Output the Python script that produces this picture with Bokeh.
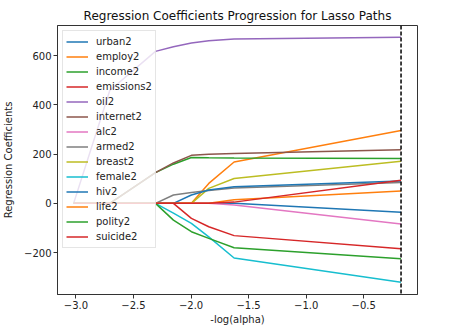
from bokeh.plotting import figure
from bokeh.models import Range1d, FixedTicker, CustomJSTickFormatter, Span, Legend, LegendItem
from bokeh.embed import file_html
from bokeh.resources import INLINE

# -log(alpha) at each step of the path
neg_log_alpha = [-3.02, -2.706, -2.309, -2.153, -1.997, -1.846, -1.626, -0.176]
best_neg_log_alpha = -0.176

names = ["urban2", "employ2", "income2", "emissions2", "oil2", "internet2", "alc2",
         "armed2", "breast2", "female2", "hiv2", "life2", "polity2", "suicide2"]

urban2 = [0, 0, 0, 0, 0, 0, 0, -36]
employ2 = [0, 0, 0, 0, 0, 81, 168, 296]
income2 = [0, 0, 125, 159, 186, 185, 184, 182]
emissions2 = [0, 0, 0, 0, -61, -95, -131, -184]
oil2 = [0, 458, 617, 636, 651, 660, 667, 674]
internet2 = [0, 0, 125, 164, 195, 199, 202, 218]
alc2 = [0, 0, 0, 0, 0, 0, -7, -84]
armed2 = [0, 0, 0, 34, 44, 52, 62, 85]
breast2 = [0, 0, 0, 0, 0, 61, 101, 171]
female2 = [0, 0, 0, -40, -81, -136, -222, -320]
hiv2 = [0, 0, 0, 0, 34, 54, 67, 91]
life2 = [0, 0, 0, 0, 0, 0, 15, 50]
polity2 = [0, 0, 0, -68, -115, -142, -180, -225]
suicide2 = [0, 0, 0, 0, 0, 0, 5, 94]

series = [urban2, employ2, income2, emissions2, oil2, internet2, alc2,
          armed2, breast2, female2, hiv2, life2, polity2, suicide2]

x_ticks = [-3.0, -2.5, -2.0, -1.5, -1.0, -0.5]
y_ticks = [-200, 0, 200, 400, 600]

tab10 = ["#1f77b4", "#ff7f0e", "#2ca02c", "#d62728", "#9467bd",
         "#8c564b", "#e377c2", "#7f7f7f", "#bcbd22", "#17becf"]

FONT = "DejaVu Sans"

p = figure(width=455, height=327, output_backend="svg", toolbar_location=None,
           x_range=Range1d(-3.16, -0.033), y_range=Range1d(-370, 722),
           min_border_left=55, min_border_right=38, min_border_top=25, min_border_bottom=32,
           title="Regression Coefficients Progression for Lasso Paths")

p.title.text_font = FONT
p.title.text_font_size = "12px"
p.title.text_font_style = "normal"
p.title.align = "center"
p.title.standoff = 5
p.title.text_color = "#111111"

p.xgrid.visible = False
p.ygrid.visible = False
p.outline_line_color = "#333333"
p.outline_line_width = 1
p.outline_line_alpha = 1

items = []
for i, (name, vals) in enumerate(zip(names, series)):
    r = p.line(neg_log_alpha, vals, line_color=tab10[i % 10], line_width=1.5)
    items.append(LegendItem(label=name, renderers=[r]))

p.add_layout(Span(location=best_neg_log_alpha, dimension="height", line_color="black",
                  line_width=1.5, line_dash="4 2"))

for ax in (p.xaxis[0], p.yaxis[0]):
    ax.axis_line_color = "#333333"
    ax.major_tick_in = 0
    ax.major_tick_out = 4
    ax.major_tick_line_color = "#333333"
    ax.minor_tick_line_color = None
    ax.major_label_text_font = FONT
    ax.major_label_text_font_size = "10px"
    ax.major_label_text_color = "#222222"
    ax.axis_label_text_font = FONT
    ax.axis_label_text_font_size = "10px"
    ax.axis_label_text_font_style = "normal"
    ax.axis_label_text_color = "#222222"
    ax.major_label_standoff = 2

p.xaxis[0].ticker = FixedTicker(ticks=x_ticks)
p.yaxis[0].ticker = FixedTicker(ticks=y_ticks)
p.xaxis[0].formatter = CustomJSTickFormatter(
    code='return (tick < 0 ? "\u2212" : "") + Math.abs(tick).toFixed(1);')
p.yaxis[0].formatter = CustomJSTickFormatter(
    code='return (tick < 0 ? "\u2212" : "") + Math.abs(tick).toFixed(0);')
p.xaxis[0].axis_label = "-log(alpha)"
p.yaxis[0].axis_label = "Regression Coefficients"
p.xaxis[0].axis_label_standoff = 2
p.yaxis[0].axis_label_standoff = 7

legend = Legend(items=items, location="top_left", margin=5, padding=3, spacing=0,
                glyph_width=22, glyph_height=15, label_height=15, label_standoff=8,
                label_text_font=FONT, label_text_font_size="10px", label_text_color="#222222",
                border_line_color="#cccccc", border_line_width=1,
                background_fill_color="white", background_fill_alpha=0.8)
p.add_layout(legend)

open("out.html", "w").write(file_html(p, INLINE))
